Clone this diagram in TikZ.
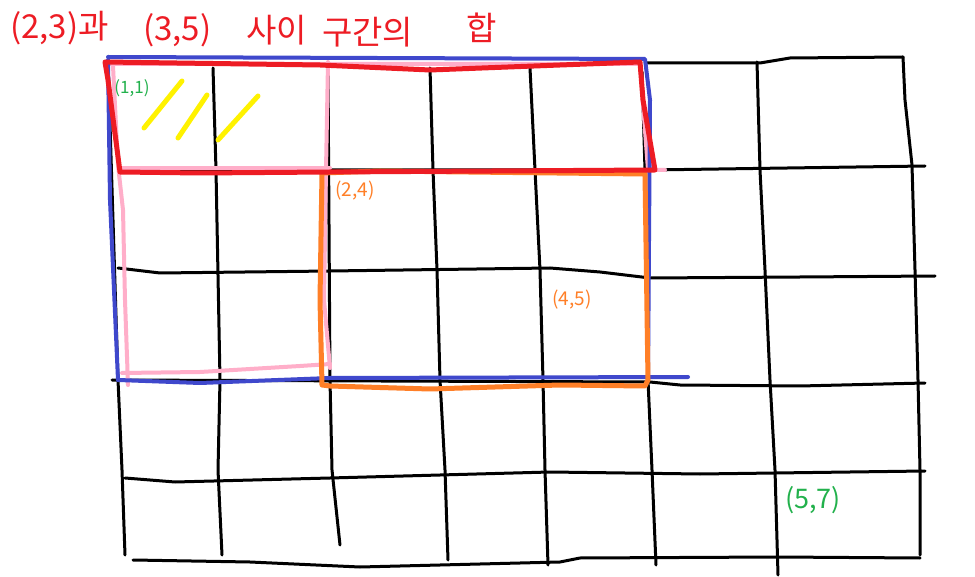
\documentclass[tikz,border=0pt]{standalone}
\usepackage{fontspec}
\setmainfont{Noto Sans CJK KR}
\definecolor{pred}{HTML}{ED1C24}
\definecolor{pblue}{HTML}{3F48CC}
\definecolor{ppink}{HTML}{FFAEC9}
\definecolor{porange}{HTML}{FF7F27}
\definecolor{pyellow}{HTML}{FFF200}
\definecolor{pgreen}{HTML}{22B14C}
\tikzset{
  gridline/.style={draw=black, line width=3pt, line cap=round, line join=round},
  pinkline/.style={draw=ppink, line width=4pt, line cap=round, line join=round},
  blueline/.style={draw=pblue, line width=4pt, line cap=round, line join=round},
  redline/.style={draw=pred, line width=5pt, line cap=round, line join=round},
  orangeline/.style={draw=porange, line width=5pt, line cap=round, line join=round},
  hatch/.style={draw=pyellow, line width=5pt, line cap=round},
  titletext/.style={text=pred, font=\fontsize{33}{36}\selectfont, inner sep=0pt, anchor=west},
  cellgreen/.style={text=pgreen, inner sep=0pt},
  cellorange/.style={text=porange, inner sep=0pt},
}
\begin{document}
\begin{tikzpicture}[x=1pt,y=-1pt]
\useasboundingbox (0,0) rectangle (975,577);
\fill[white] (0,0) rectangle (975,577);

% title
\node[titletext] (t1) at (10,28) {(2,3)과};
\node[titletext] (t2) at (143,30) {(3,5)};
\node[titletext] (t3) at (246,30) {사이};
\node[titletext] (t4) at (322,32) {구간의};
\node[titletext] (t5) at (466,28) {합};

% black grid: verticals
\draw[gridline] (108,60) -- (118,380) -- (122,470) -- (125,555);
\draw[gridline] (213,68) -- (216,170) -- (220,380) -- (218,470) -- (222,555);
\draw[gridline] (328,70) -- (330,380) -- (332,470) -- (340,545);
\draw[gridline] (430,68) -- (433,170) -- (437,270) -- (440,380) -- (445,470) -- (448,560);
\draw[gridline] (530,68) -- (535,170) -- (540,270) -- (543,380) -- (545,470) -- (548,565);
\draw[gridline] (642,72) -- (645,170) -- (648,380) -- (652,470) -- (656,565);
\draw[gridline] (757,62) -- (760,170) -- (765,270) -- (770,380) -- (775,470) -- (778,575);
\draw[gridline] (903,57) -- (905,100) -- (912,165) -- (915,270) -- (918,380) -- (920,470) -- (920,555);
% black grid: horizontals
\draw[gridline] (645,63) -- (760,63) -- (790,58) -- (903,57);
\draw[gridline] (120,170) -- (650,170) -- (925,166);
\draw[gridline] (118,268) -- (160,273) -- (330,271) -- (550,268) -- (600,272) -- (650,278) -- (800,277) -- (935,276);
\draw[gridline] (112,380) -- (650,382) -- (680,385) -- (800,386) -- (925,383);
\draw[gridline] (125,478) -- (175,482) -- (330,478) -- (550,472) -- (700,474) -- (925,471);
\draw[gridline] (133,560) -- (250,562) -- (360,567) -- (560,562) -- (580,558) -- (778,557) -- (920,558);

% pink
\draw[pinkline] (108,64) -- (640,64) -- (648,170) -- (665,170);
\draw[pinkline] (113,66) -- (118,165) -- (123,210) -- (125,300) -- (128,385);
\draw[pinkline] (120,168) -- (330,168);
\draw[pinkline] (122,373) -- (200,372) -- (300,366) -- (330,364);
\draw[pinkline] (328,62) -- (326,170) -- (324,300) -- (330,368);

% blue
\draw[blueline] (108,57) -- (645,59) -- (650,100) -- (648,380);
\draw[blueline] (108,60) -- (110,200) -- (118,380);
\draw[blueline] (118,380) -- (200,383) -- (330,378) -- (688,377);

% orange
\draw[orangeline] (322,173) -- (380,171) -- (645,174) -- (648,380) -- (645,386)
  -- (560,385) -- (430,389) -- (330,386) -- (322,385) -- (320,300) -- cycle;

% red
\draw[redline] (105,62) -- (320,65) -- (430,70) -- (560,65) -- (640,62) -- (643,100)
  -- (655,170) -- (330,172) -- (200,173) -- (120,172) -- (108,80) -- cycle;

% yellow hatches
\draw[hatch] (144,128) -- (182,81);
\draw[hatch] (178,138) -- (207,95);
\draw[hatch] (218,140) -- (258,96);

% cell labels
\node[cellgreen, font=\fontsize{17}{19}\selectfont] (c11) at (132,88) {(1,1)};
\node[cellorange, font=\fontsize{19}{21}\selectfont] (c24) at (355,191) {(2,4)};
\node[cellorange, font=\fontsize{19}{21}\selectfont] (c45) at (572,300) {(4,5)};
\node[cellgreen, font=\fontsize{27}{30}\selectfont] (c57) at (813,500) {(5,7)};
\end{tikzpicture}
\end{document}
